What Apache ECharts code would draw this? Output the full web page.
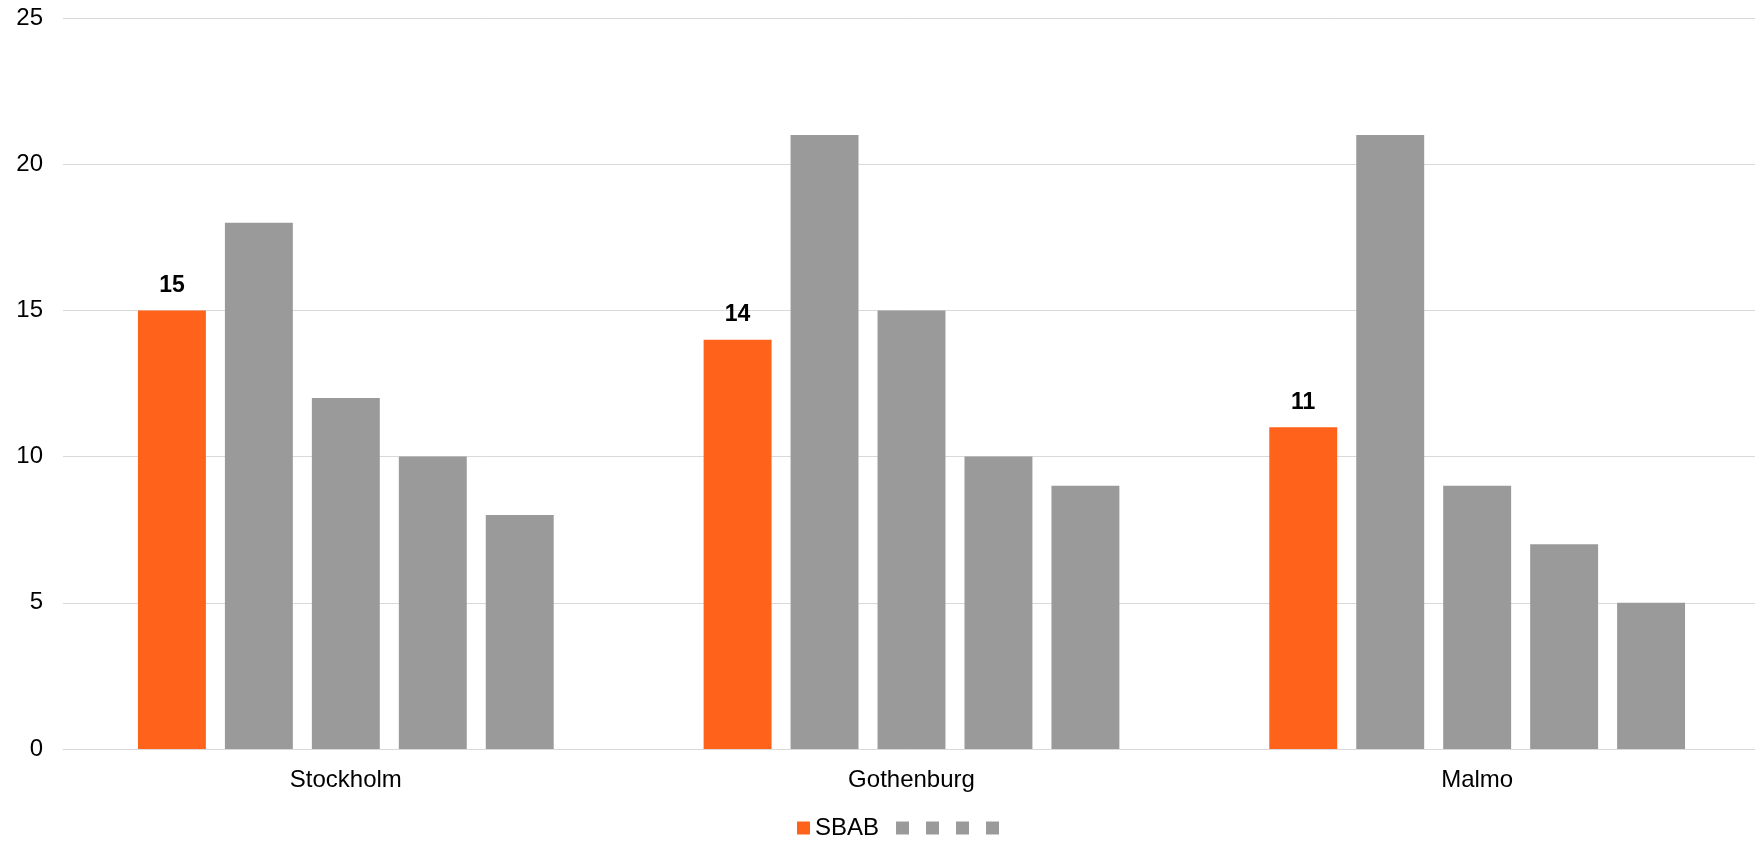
<!DOCTYPE html>
<html>
<head>
<meta charset="utf-8">
<script src="https://cdn.jsdelivr.net/npm/echarts@6/dist/echarts.min.js"></script>
<style>
  html, body { margin: 0; padding: 0; background: #ffffff; }
  #chart { width: 1755px; height: 841px; }
</style>
</head>
<body>
<div id="chart"></div>
<script>
// Cities on the x axis
const categories = ['Stockholm', 'Gothenburg', 'Malmo'];

// Series: SBAB plus four unnamed competitors
const seriesNames = ['SBAB', 'c1', 'c2', 'c3', 'c4'];
const sbab = [15, 14, 11];
const comp1 = [18, 21, 21];
const comp2 = [12, 15, 9];
const comp3 = [10, 10, 7];
const comp4 = [8, 9, 5];

const yTicks = { min: 0, max: 25, interval: 5 };

const ORANGE = '#ff631b';
const GREY = '#9a9a9a';
const FONT = 'Liberation Sans, Arial, sans-serif';

const seriesData = [sbab, comp1, comp2, comp3, comp4];

const chart = echarts.init(document.getElementById('chart'), null, { renderer: 'canvas' });

chart.setOption({
  animation: false,
  backgroundColor: '#ffffff',
  textStyle: { fontFamily: FONT },
  // plot area runs slightly past the right edge of the canvas
  grid: { left: 63, top: 18, right: -5, bottom: 92, containLabel: false, outerBoundsMode: 'none' },
  legend: {
    top: 811,
    left: 792,
    itemWidth: 13,
    itemHeight: 13,
    itemGap: 17,
    icon: 'rect',
    data: seriesNames,
    // only SBAB carries a visible legend name
    formatter: name => (name === 'SBAB' ? name : ''),
    textStyle: { fontFamily: FONT, fontSize: 24, color: '#000000' }
  },
  xAxis: {
    type: 'category',
    data: categories,
    axisLine: { show: true, lineStyle: { color: '#d9d9d9', width: 1 } },
    axisTick: { show: false },
    axisLabel: { color: '#000000', fontSize: 24, fontFamily: FONT, margin: 19 }
  },
  yAxis: {
    type: 'value',
    min: yTicks.min,
    max: yTicks.max,
    interval: yTicks.interval,
    axisLine: { show: false },
    axisTick: { show: false },
    splitLine: { lineStyle: { color: '#d9d9d9', width: 1 } },
    axisLabel: { color: '#000000', fontSize: 24, fontFamily: FONT, margin: 20, padding: [4, 0, 0, 0] }
  },
  series: seriesData.map((values, i) => ({
    name: seriesNames[i],
    type: 'bar',
    data: values,
    barGap: '28%',
    barCategoryGap: '26.5%',
    itemStyle: { color: i === 0 ? ORANGE : GREY },
    label: {
      show: i === 0,
      position: 'top',
      distance: 13,
      color: '#000000',
      fontWeight: 'bold',
      fontSize: 23,
      fontFamily: FONT
    }
  }))
});
</script>
</body>
</html>
